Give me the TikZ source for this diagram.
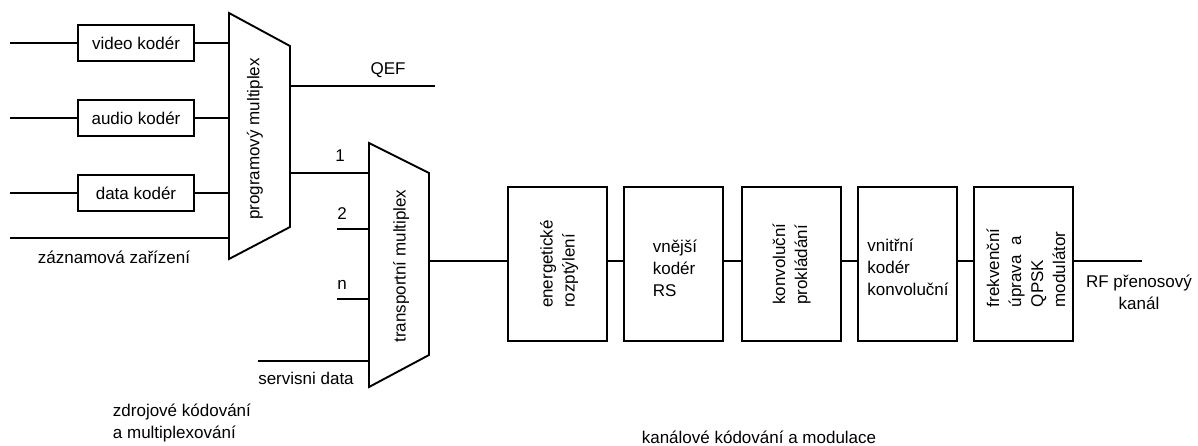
\documentclass[tikz,border=0pt]{standalone}
\usepackage{fontspec}
\setmainfont{Liberation Sans}
\begin{document}
\begin{tikzpicture}[x=1pt,y=-1pt,line width=1.9pt,
  every node/.style={font=\fontsize{17}{22}\selectfont,inner sep=0pt},
  enc/.style={draw,line width=1.9pt,minimum width=116pt,minimum height=36pt},
  chan/.style={draw,line width=1.9pt,minimum width=99pt,minimum height=154pt},
  vtxt/.style={rotate=90,align=left},
  htxt/.style={align=left}]
\useasboundingbox (0,0) rectangle (1198,445);

% programovy multiplex
\coordinate (pmTL) at (229,13);
\coordinate (pmTR) at (290,46);
\coordinate (pmBR) at (290,227);
\coordinate (pmBL) at (229,259);
\draw (pmTL) -- (pmTR) -- (pmBR) -- (pmBL) -- cycle;
\node[rotate=90] (pmtxt) at (255,139) {programový multiplex};

% transportni multiplex
\coordinate (tmTL) at (369,143);
\coordinate (tmTR) at (429,173);
\coordinate (tmBR) at (429,355);
\coordinate (tmBL) at (369,387);
\draw (tmTL) -- (tmTR) -- (tmBR) -- (tmBL) -- cycle;
\node[rotate=90] (tmtxt) at (401,266) {transportní multiplex};

% source encoders
\node[enc] (video) at (136,43) {video kodér};
\node[enc] (audio) at (136,118) {audio kodér};
\node[enc] (data) at (136,193) {data kodér};
\coordinate (vin) at (10,43);
\coordinate (ain) at (10,118);
\coordinate (din) at (10,193);
\coordinate (zin) at (10,238);
\draw (vin) -- (video.west);
\draw (ain) -- (audio.west);
\draw (din) -- (data.west);
\draw (video.east) -- (video.east -| pmTL);
\draw (audio.east) -- (audio.east -| pmTL);
\draw (data.east) -- (data.east -| pmTL);
\draw (zin) -- (zin -| pmTL);
\node (zaz) at (114,257) {záznamová zařízení};

% QEF
\coordinate (qef0) at (290,86);
\coordinate (qef1) at (435,86);
\draw (qef0) -- (qef1);
\node (qeft) at (388,70) {QEF};

% inputs to transport mux
\coordinate (one0) at (290,173);
\draw (one0) -- (one0 -| tmTL);
\node (onet) at (340,156) {1};
\coordinate (two0) at (337,229);
\draw (two0) -- (two0 -| tmTL);
\node (twot) at (342,214) {2};
\coordinate (n0) at (337,299);
\draw (n0) -- (n0 -| tmTL);
\node (nt) at (342,285) {n};
\coordinate (sd0) at (258,361);
\draw (sd0) -- (sd0 -| tmTL);
\node (sdt) at (306,378) {servisni data};

% channel coding chain
\node[chan] (b1) at (557.5,264) {};
\node[vtxt] (b1t) at (559,264) {energetické\\rozptýlení};
\node[chan] (b2) at (673.5,264) {};
\node[htxt] (b2t) at (675,268) {vnější\\kodér\\RS};
\node[chan] (b3) at (791.5,264) {};
\node[vtxt] (b3t) at (b3.center) {konvoluční\\prokládání};
\node[chan] (b4) at (907.5,264) {};
\node[htxt] (b4t) at (908,267) {vnitřní\\kodér\\konvoluční};
\node[chan] (b5) at (1023.5,264) {};
\node[vtxt] (b5t) at (1026,268) {frekvenční\\úprava~~a\\QPSK\\modulátor};

\coordinate (tmout) at (429,261);
\draw (tmout) -- (tmout -| b1.west);
\draw (b1.east |- tmout) -- (b2.west |- tmout);
\draw (b2.east |- tmout) -- (b3.west |- tmout);
\draw (b3.east |- tmout) -- (b4.west |- tmout);
\draw (b4.east |- tmout) -- (b5.west |- tmout);
\coordinate (rfout) at (1142,261);
\draw (b5.east |- tmout) -- (rfout);
\node[align=center] (rft) at (1139,292) {RF přenosový\\kanál};

% captions
\node[htxt,anchor=west] (cap1) at (112,423) {zdrojové kódování\\a multiplexování};
\node (cap2) at (759,437) {kanálové kódování a modulace};
\end{tikzpicture}
\end{document}
